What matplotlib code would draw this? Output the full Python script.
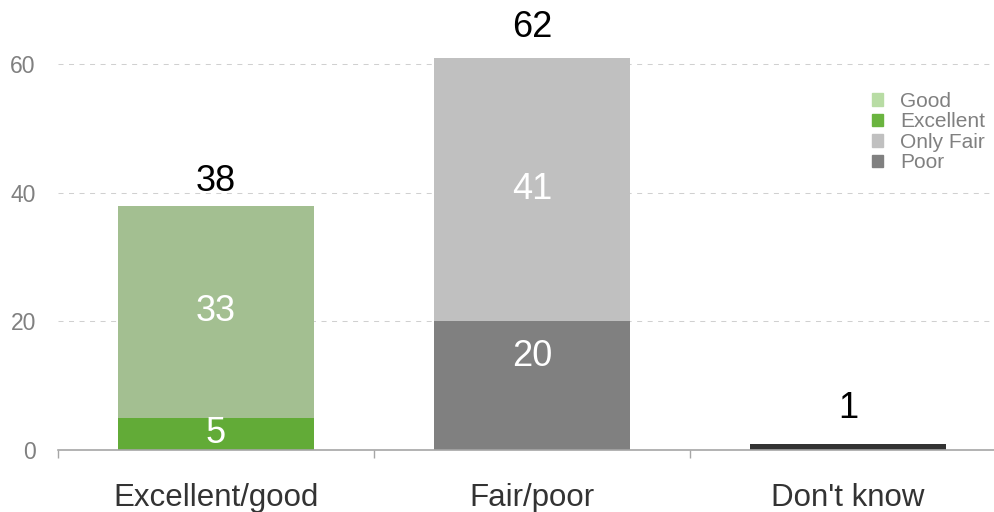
import numpy as np
import matplotlib
matplotlib.use("Agg")
import matplotlib.pyplot as plt
from matplotlib.patches import Patch

plt.rcParams['font.family'] = ['Liberation Sans', 'DejaVu Sans']

categories = ["Excellent/good", "Fair/poor", "Don't know"]
excellent = [5, 0, 0]
good = [33, 0, 0]
poor = [0, 20, 0]
only_fair = [0, 41, 0]
dont_know = [0, 0, 1]
totals = [38, 62, 1]
total_pad = [4.5, 4.5, 13]  # label offset above bar, points

c_excellent = "#62ab37"
c_good = "#a3bf91"
c_poor = "#808080"
c_fair = "#c0c0c0"
c_dk = "#333333"

fig = plt.figure(figsize=(9.95, 5.12), dpi=100)
ax = fig.add_axes([58 / 995, 62 / 512, (995 - 58) / 995, 450 / 512])

x = np.arange(len(categories))
w = 0.623

def seg_label(xs, bottoms, vals, shift=0):
    for xi, b, v in zip(xs, bottoms, vals):
        if v > 0:
            ax.annotate(str(v), (xi, b + v / 2), xytext=(0, shift),
                        textcoords="offset points", ha="center", va="center",
                        color="white", fontsize=26)

ax.bar(x, excellent, w, color=c_excellent)
ax.bar(x, good, w, bottom=excellent, color=c_good)
ax.bar(x, poor, w, color=c_poor)
ax.bar(x, only_fair, w, bottom=poor, color=c_fair)
ax.bar(x, dont_know, w, color=c_dk)

seg_label(x, [0] * 3, excellent)
seg_label(x, excellent, good)
seg_label(x, [0] * 3, poor, shift=21)
seg_label(x, poor, only_fair)

for xi, t, p in zip(x, totals, total_pad):
    ax.annotate(str(t), (xi, t), xytext=(0, p), textcoords="offset points",
                ha="center", va="bottom", fontsize=26, color="black")

ax.set_xlim(-0.5, -0.5 + (995 - 58) / 316)
ax.set_ylim(0, 70)
ax.set_yticks([0, 20, 40, 60])
ax.set_xticks(x)
ax.set_xticklabels(categories, fontsize=22.5, color="#333333")
ax.set_xticks([-0.5, 0.5, 1.5], minor=True)
ax.tick_params(axis="x", which="major", length=0, pad=23.5)
ax.tick_params(axis="x", which="minor", length=6, width=1, color="#a6a6a6")
ax.tick_params(axis="y", length=0, pad=16, labelsize=16.5, labelcolor="#808080")

ax.set_axisbelow(True)
ax.yaxis.grid(True, color="#d0d0d0", linewidth=0.75, linestyle=(0, (4.8, 5.3)))
for s in ["top", "right", "left"]:
    ax.spines[s].set_visible(False)
ax.spines["bottom"].set_color("#a6a6a6")
ax.spines["bottom"].set_linewidth(1.2)

handles = [Patch(color="#b8dca4", label="Good"),
           Patch(color="#6ab43f", label="Excellent"),
           Patch(color="#c0c0c0", label="Only Fair"),
           Patch(color="#808080", label="Poor")]
leg = fig.legend(handles=handles, loc="upper left",
                 bbox_to_anchor=(872 / 995, 1 - 92 / 512), frameon=False,
                 fontsize=15, handlelength=0.55, handleheight=0.55,
                 handletextpad=0.8, labelspacing=0.07, borderpad=0,
                 borderaxespad=0)
for t in leg.get_texts():
    t.set_color("#808080")

fig.savefig("out.png", dpi=100)
